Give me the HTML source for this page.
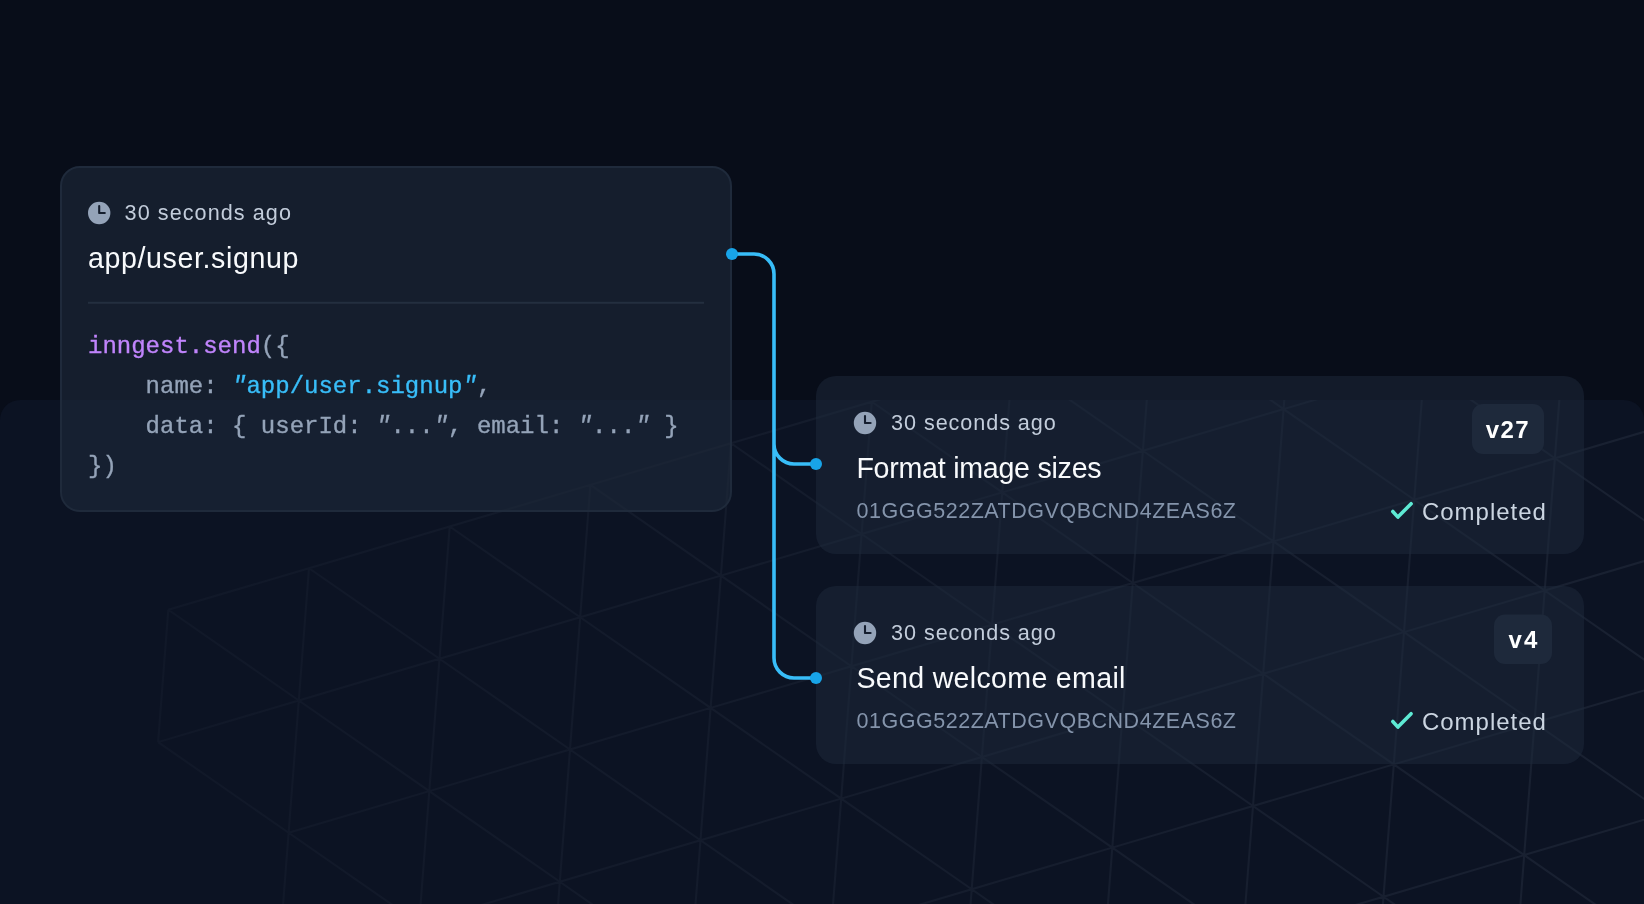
<!DOCTYPE html>
<html lang="en">
<head>
<meta charset="utf-8">
<title>Inngest event flow</title>
<style>
html,body{margin:0;padding:0;background:#080d19}
body{width:1644px;height:904px;overflow:hidden;font-family:"Liberation Sans",sans-serif}
svg{display:block;will-change:transform;transform:translateZ(0)}
text{font-family:"Liberation Sans",sans-serif;white-space:pre}
.mono{font-family:"Liberation Mono",monospace;font-size:24px;stroke-width:.35px;paint-order:stroke}
.mono .pu,.mono.pu{stroke:#c084fc}.mono .gr,.mono.gr{stroke:#94a3b8}.mono .bl,.mono.bl{stroke:#38bdf8}
.time{font-size:21.6px;fill:#c3cddb}
.title{font-size:28.6px;fill:#f8fafc}
.id{font-size:21.5px;fill:#8494ab}
.badge{font-size:24px;font-weight:bold;fill:#ffffff}
.status{font-size:24px;fill:#cbd5e1}
.q{font-style:italic}
.pu{fill:#c084fc}
.gr{fill:#94a3b8}
.bl{fill:#38bdf8}
</style>
</head>
<body>
<svg width="1644" height="904" viewBox="0 0 1644 904">
  <defs>
    <clipPath id="bandclip"><rect x="0" y="400" width="1644" height="600" rx="20" ry="20"/></clipPath>
    <linearGradient id="gridfade" gradientUnits="userSpaceOnUse" x1="150" y1="0" x2="1644" y2="0">
      <stop offset="0" stop-color="#94a3b8" stop-opacity="0.035"/>
      <stop offset="1" stop-color="#94a3b8" stop-opacity="0.098"/>
    </linearGradient>
    <g id="clock">
      <path fill="#94a3b8" fill-rule="evenodd" d="M10 18a8 8 0 100-16 8 8 0 000 16zm.75-13a.75.75 0 00-1.5 0v5c0 .414.336.75.75.75h4a.75.75 0 000-1.5h-3.25V5z"/>
    </g>
  </defs>

  <!-- background -->
  <rect x="0" y="0" width="1644" height="904" fill="#080d19"/>
  <rect x="0" y="400" width="1644" height="600" rx="20" ry="20" fill="#0c1323"/>
  <g clip-path="url(#bandclip)">
    <path d="M168.3 609.8L309.0 568.2M168.3 609.8L158.1 742.1M168.3 609.8L298.8 700.5M309.0 568.2L449.7 526.5M309.0 568.2L298.8 700.5M309.0 568.2L439.5 658.8M449.7 526.5L590.4 484.9M449.7 526.5L439.5 658.8M449.7 526.5L580.2 617.2M590.4 484.9L731.0 443.3M590.4 484.9L580.2 617.2M590.4 484.9L720.9 575.6M731.0 443.3L871.8 401.7M731.0 443.3L720.9 575.6M731.0 443.3L861.6 534.0M871.8 401.7L1012.5 360.1M871.8 401.7L861.6 534.0M871.8 401.7L1002.3 492.4M1012.5 360.1L1153.1 318.4M1012.5 360.1L1002.3 492.4M1012.5 360.1L1142.9 450.7M1153.1 318.4L1293.8 276.8M1153.1 318.4L1142.9 450.7M1153.1 318.4L1283.6 409.1M1293.8 276.8L1434.5 235.2M1293.8 276.8L1283.6 409.1M1293.8 276.8L1424.3 367.5M1434.5 235.2L1575.2 193.6M1434.5 235.2L1424.3 367.5M1434.5 235.2L1565.0 325.9M1575.2 193.6L1716.0 152.0M1575.2 193.6L1565.0 325.9M1575.2 193.6L1705.8 284.3M1716.0 152.0L1856.6 110.3M1716.0 152.0L1705.8 284.3M1716.0 152.0L1846.4 242.6M1856.6 110.3L1997.3 68.7M1856.6 110.3L1846.4 242.6M1856.6 110.3L1987.1 201.0M1997.3 68.7L1987.1 201.0M158.1 742.1L298.8 700.5M158.1 742.1L288.6 832.8M298.8 700.5L439.5 658.8M298.8 700.5L288.6 832.8M298.8 700.5L429.3 791.1M439.5 658.8L580.2 617.2M439.5 658.8L429.3 791.1M439.5 658.8L570.0 749.5M580.2 617.2L720.9 575.6M580.2 617.2L570.0 749.5M580.2 617.2L710.6 707.9M720.9 575.6L861.6 534.0M720.9 575.6L710.6 707.9M720.9 575.6L851.4 666.3M861.6 534.0L1002.3 492.4M861.6 534.0L851.4 666.3M861.6 534.0L992.1 624.7M1002.3 492.4L1142.9 450.7M1002.3 492.4L992.1 624.7M1002.3 492.4L1132.8 583.0M1142.9 450.7L1283.6 409.1M1142.9 450.7L1132.8 583.0M1142.9 450.7L1273.5 541.4M1283.6 409.1L1424.3 367.5M1283.6 409.1L1273.5 541.4M1283.6 409.1L1414.2 499.8M1424.3 367.5L1565.0 325.9M1424.3 367.5L1414.2 499.8M1424.3 367.5L1554.9 458.2M1565.0 325.9L1705.8 284.3M1565.0 325.9L1554.9 458.2M1565.0 325.9L1695.6 416.6M1705.8 284.3L1846.4 242.6M1705.8 284.3L1695.6 416.6M1705.8 284.3L1836.2 374.9M1846.4 242.6L1987.1 201.0M1846.4 242.6L1836.2 374.9M1846.4 242.6L1977.0 333.3M1987.1 201.0L1977.0 333.3M288.6 832.8L429.3 791.1M288.6 832.8L278.4 965.1M288.6 832.8L419.1 923.4M429.3 791.1L570.0 749.5M429.3 791.1L419.1 923.4M429.3 791.1L559.8 881.8M570.0 749.5L710.6 707.9M570.0 749.5L559.8 881.8M570.0 749.5L700.5 840.2M710.6 707.9L851.4 666.3M710.6 707.9L700.5 840.2M710.6 707.9L841.2 798.6M851.4 666.3L992.1 624.7M851.4 666.3L841.2 798.6M851.4 666.3L981.9 757.0M992.1 624.7L1132.8 583.0M992.1 624.7L981.9 757.0M992.1 624.7L1122.5 715.3M1132.8 583.0L1273.5 541.4M1132.8 583.0L1122.5 715.3M1132.8 583.0L1263.2 673.7M1273.5 541.4L1414.2 499.8M1273.5 541.4L1263.2 673.7M1273.5 541.4L1404.0 632.1M1414.2 499.8L1554.9 458.2M1414.2 499.8L1404.0 632.1M1414.2 499.8L1544.7 590.5M1554.9 458.2L1695.6 416.6M1554.9 458.2L1544.7 590.5M1554.9 458.2L1685.4 548.9M1695.6 416.6L1836.2 374.9M1695.6 416.6L1685.4 548.9M1695.6 416.6L1826.0 507.2M1836.2 374.9L1977.0 333.3M1836.2 374.9L1826.0 507.2M1836.2 374.9L1966.8 465.6M1977.0 333.3L1966.8 465.6M278.4 965.1L419.1 923.4M278.4 965.1L268.2 1097.4M278.4 965.1L408.9 1055.7M419.1 923.4L559.8 881.8M419.1 923.4L408.9 1055.7M419.1 923.4L549.6 1014.1M559.8 881.8L700.5 840.2M559.8 881.8L549.6 1014.1M559.8 881.8L690.2 972.5M700.5 840.2L841.2 798.6M700.5 840.2L690.2 972.5M700.5 840.2L831.0 930.9M841.2 798.6L981.9 757.0M841.2 798.6L831.0 930.9M841.2 798.6L971.7 889.3M981.9 757.0L1122.5 715.3M981.9 757.0L971.7 889.3M981.9 757.0L1112.3 847.6M1122.5 715.3L1263.2 673.7M1122.5 715.3L1112.3 847.6M1122.5 715.3L1253.0 806.0M1263.2 673.7L1404.0 632.1M1263.2 673.7L1253.0 806.0M1263.2 673.7L1393.8 764.4M1404.0 632.1L1544.7 590.5M1404.0 632.1L1393.8 764.4M1404.0 632.1L1534.5 722.8M1544.7 590.5L1685.4 548.9M1544.7 590.5L1534.5 722.8M1544.7 590.5L1675.2 681.2M1685.4 548.9L1826.0 507.2M1685.4 548.9L1675.2 681.2M1685.4 548.9L1815.8 639.5M1826.0 507.2L1966.8 465.6M1826.0 507.2L1815.8 639.5M1826.0 507.2L1956.5 597.9M1966.8 465.6L1956.5 597.9M268.2 1097.4L408.9 1055.7M268.2 1097.4L258.0 1229.7M268.2 1097.4L398.7 1188.0M408.9 1055.7L549.6 1014.1M408.9 1055.7L398.7 1188.0M408.9 1055.7L539.4 1146.4M549.6 1014.1L690.2 972.5M549.6 1014.1L539.4 1146.4M549.6 1014.1L680.0 1104.8M690.2 972.5L831.0 930.9M690.2 972.5L680.0 1104.8M690.2 972.5L820.8 1063.2M831.0 930.9L971.7 889.3M831.0 930.9L820.8 1063.2M831.0 930.9L961.5 1021.6M971.7 889.3L1112.3 847.6M971.7 889.3L961.5 1021.6M971.7 889.3L1102.1 979.9M1112.3 847.6L1253.0 806.0M1112.3 847.6L1102.1 979.9M1112.3 847.6L1242.8 938.3M1253.0 806.0L1393.8 764.4M1253.0 806.0L1242.8 938.3M1253.0 806.0L1383.5 896.7M1393.8 764.4L1534.5 722.8M1393.8 764.4L1383.5 896.7M1393.8 764.4L1524.2 855.1M1534.5 722.8L1675.2 681.2M1534.5 722.8L1524.2 855.1M1534.5 722.8L1665.0 813.5M1675.2 681.2L1815.8 639.5M1675.2 681.2L1665.0 813.5M1675.2 681.2L1805.6 771.8M1815.8 639.5L1956.5 597.9M1815.8 639.5L1805.6 771.8M1815.8 639.5L1946.3 730.2M1956.5 597.9L1946.3 730.2M258.0 1229.7L398.7 1188.0M258.0 1229.7L247.8 1362.0M258.0 1229.7L388.5 1320.3M398.7 1188.0L539.4 1146.4M398.7 1188.0L388.5 1320.3M398.7 1188.0L529.2 1278.7M539.4 1146.4L680.0 1104.8M539.4 1146.4L529.2 1278.7M539.4 1146.4L669.9 1237.1M680.0 1104.8L820.8 1063.2M680.0 1104.8L669.9 1237.1M680.0 1104.8L810.6 1195.5M820.8 1063.2L961.5 1021.6M820.8 1063.2L810.6 1195.5M820.8 1063.2L951.3 1153.9M961.5 1021.6L1102.1 979.9M961.5 1021.6L951.3 1153.9M961.5 1021.6L1091.9 1112.2M1102.1 979.9L1242.8 938.3M1102.1 979.9L1091.9 1112.2M1102.1 979.9L1232.6 1070.6M1242.8 938.3L1383.5 896.7M1242.8 938.3L1232.6 1070.6M1242.8 938.3L1373.3 1029.0M1383.5 896.7L1524.2 855.1M1383.5 896.7L1373.3 1029.0M1383.5 896.7L1514.0 987.4M1524.2 855.1L1665.0 813.5M1524.2 855.1L1514.0 987.4M1524.2 855.1L1654.8 945.8M1665.0 813.5L1805.6 771.8M1665.0 813.5L1654.8 945.8M1665.0 813.5L1795.4 904.1M1805.6 771.8L1946.3 730.2M1805.6 771.8L1795.4 904.1M1805.6 771.8L1936.1 862.5M1946.3 730.2L1936.1 862.5M247.8 1362.0L388.5 1320.3M247.8 1362.0L237.6 1494.3M247.8 1362.0L378.3 1452.6M388.5 1320.3L529.2 1278.7M388.5 1320.3L378.3 1452.6M388.5 1320.3L519.0 1411.0M529.2 1278.7L669.9 1237.1M529.2 1278.7L519.0 1411.0M529.2 1278.7L659.6 1369.4M669.9 1237.1L810.6 1195.5M669.9 1237.1L659.6 1369.4M669.9 1237.1L800.4 1327.8M810.6 1195.5L951.3 1153.9M810.6 1195.5L800.4 1327.8M810.6 1195.5L941.1 1286.2M951.3 1153.9L1091.9 1112.2M951.3 1153.9L941.1 1286.2M951.3 1153.9L1081.8 1244.5M1091.9 1112.2L1232.6 1070.6M1091.9 1112.2L1081.8 1244.5M1091.9 1112.2L1222.5 1202.9M1232.6 1070.6L1373.3 1029.0M1232.6 1070.6L1222.5 1202.9M1232.6 1070.6L1363.2 1161.3M1373.3 1029.0L1514.0 987.4M1373.3 1029.0L1363.2 1161.3M1373.3 1029.0L1503.9 1119.7M1514.0 987.4L1654.8 945.8M1514.0 987.4L1503.9 1119.7M1514.0 987.4L1644.6 1078.1M1654.8 945.8L1795.4 904.1M1654.8 945.8L1644.6 1078.1M1654.8 945.8L1785.2 1036.4M1795.4 904.1L1936.1 862.5M1795.4 904.1L1785.2 1036.4M1795.4 904.1L1926.0 994.8M1936.1 862.5L1926.0 994.8M237.6 1494.3L378.3 1452.6M378.3 1452.6L519.0 1411.0M519.0 1411.0L659.6 1369.4M659.6 1369.4L800.4 1327.8M800.4 1327.8L941.1 1286.2M941.1 1286.2L1081.8 1244.5M1081.8 1244.5L1222.5 1202.9M1222.5 1202.9L1363.2 1161.3M1363.2 1161.3L1503.9 1119.7M1503.9 1119.7L1644.6 1078.1M1644.6 1078.1L1785.2 1036.4M1785.2 1036.4L1926.0 994.8" fill="none" stroke="url(#gridfade)" stroke-width="2"/>
  </g>

  <!-- left card -->
  <rect x="61" y="167" width="670" height="344" rx="19" ry="19" fill="#1e293b" fill-opacity="0.6" stroke="#1f2a3b" stroke-width="2"/>
  <use href="#clock" transform="translate(85.2 199) scale(1.4)"/>
  <text class="time" x="124.6" y="219.8" textLength="166.3" lengthAdjust="spacing">30 seconds ago</text>
  <text class="title" x="88" y="267.6" textLength="210.4" lengthAdjust="spacing">app/user.signup</text>
  <rect x="88" y="301.8" width="616" height="2" fill="#232f3f"/>
  <text class="mono" x="88" y="353"><tspan class="pu">inngest.send</tspan><tspan class="gr">({</tspan></text>
  <text class="mono" x="88" y="393.1"><tspan class="gr">    name: </tspan><tspan class="bl"><tspan class="q">"</tspan>app/user.signup<tspan class="q">"</tspan></tspan><tspan class="gr">,</tspan></text>
  <text class="mono gr" x="88" y="433.2">    data: { userId: <tspan class="q">"</tspan>...<tspan class="q">"</tspan>, email: <tspan class="q">"</tspan>...<tspan class="q">"</tspan> }</text>
  <text class="mono gr" x="88" y="473.3">})</text>

  <!-- connectors -->
  <path d="M732 254H754A20 20 0 0 1 774 274V658A20 20 0 0 0 794 678H816M774 444A20 20 0 0 0 794 464H816" fill="none" stroke="#38bdf8" stroke-width="3.6"/>

  <!-- right card 1 -->
  <rect x="816" y="376" width="768" height="178" rx="20" ry="20" fill="#1e293b" fill-opacity="0.5"/>
  <use href="#clock" transform="translate(851 409) scale(1.4)"/>
  <text class="time" x="891.1" y="429.7" textLength="164.6" lengthAdjust="spacing">30 seconds ago</text>
  <text class="title" x="856.4" y="478" textLength="245.2" lengthAdjust="spacing">Format image sizes</text>
  <text class="id" x="856.5" y="517.6" textLength="379.5" lengthAdjust="spacing">01GGG522ZATDGVQBCND4ZEAS6Z</text>
  <rect x="1472" y="404" width="72" height="50" rx="11" ry="11" fill="#1e293b"/>
  <text class="badge" x="1485.8" y="438.3" textLength="42.8" lengthAdjust="spacing">v27</text>
  <path d="M1392.8 511.5L1397.9 517.1L1411.1 503.7" fill="none" stroke="#5eead4" stroke-width="3.6" stroke-linecap="round" stroke-linejoin="round"/>
  <text class="status" x="1422" y="520" textLength="123.8" lengthAdjust="spacing">Completed</text>

  <!-- right card 2 -->
  <rect x="816" y="586" width="768" height="178" rx="20" ry="20" fill="#1e293b" fill-opacity="0.5"/>
  <use href="#clock" transform="translate(851 619) scale(1.4)"/>
  <text class="time" x="891.1" y="639.7" textLength="164.6" lengthAdjust="spacing">30 seconds ago</text>
  <text class="title" x="856.4" y="688" textLength="269" lengthAdjust="spacing">Send welcome email</text>
  <text class="id" x="856.5" y="727.6" textLength="379.5" lengthAdjust="spacing">01GGG522ZATDGVQBCND4ZEAS6Z</text>
  <rect x="1494" y="614.5" width="58" height="49.5" rx="11" ry="11" fill="#1e293b"/>
  <text class="badge" x="1508.4" y="647.6" textLength="29" lengthAdjust="spacing">v4</text>
  <path d="M1392.8 721.5L1397.9 727.1L1411.1 713.7" fill="none" stroke="#5eead4" stroke-width="3.6" stroke-linecap="round" stroke-linejoin="round"/>
  <text class="status" x="1422" y="730" textLength="123.8" lengthAdjust="spacing">Completed</text>
  <!-- dots -->
  <circle cx="732" cy="254" r="6" fill="#18a4e8"/>
  <circle cx="816" cy="464" r="6" fill="#18a4e8"/>
  <circle cx="816" cy="678" r="6" fill="#18a4e8"/>
</svg>
</body>
</html>
